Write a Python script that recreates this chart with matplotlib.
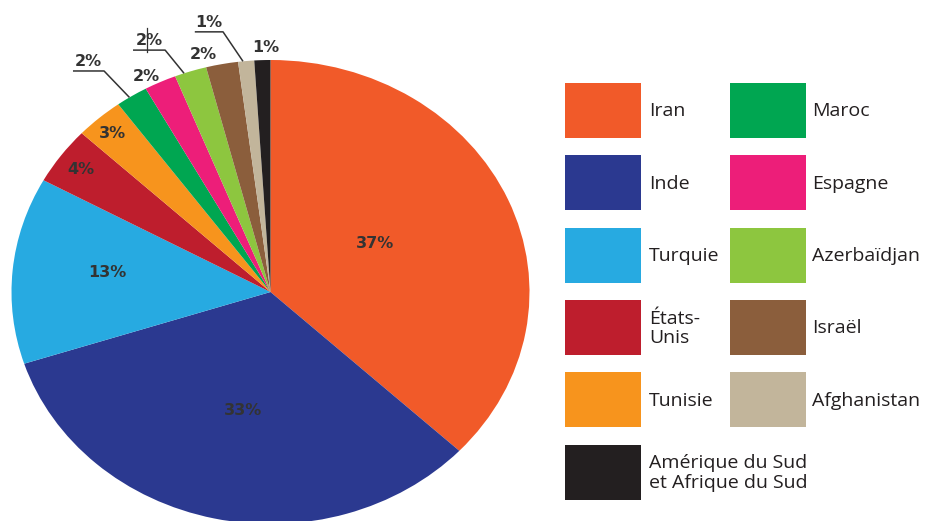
import numpy as np
import matplotlib.pyplot as plt
from matplotlib.patches import Rectangle

# données
pays = ['Iran', 'Inde', 'Turquie', 'États-\nUnis', 'Tunisie', 'Maroc', 'Espagne',
        'Azerbaïdjan', 'Israël', 'Afghanistan', 'Amérique du Sud\net Afrique du Sud']
parts = [37, 33, 13, 4, 3, 2, 2, 2, 2, 1, 1]
couleurs = ['#F15A29', '#2B3990', '#27AAE1', '#BE1E2D', '#F7941D', '#00A651',
            '#ED1E79', '#8DC63F', '#8B5E3C', '#C2B59B', '#231F20']
etiquettes = [f'{p}%' for p in parts]

# ordre de la légende (deux colonnes)
col1 = [0, 1, 2, 3, 4, 10]
col2 = [5, 6, 7, 8, 9]

# placement des étiquettes : (rayon, décalage d'angle en degrés)
place = {0: (0.455, 3.7), 1: (0.524, 0.7), 2: (0.635, -2.4), 3: (0.902, 0.3),
         4: (0.917, 0.3), 6: (1.044, 2.2), 8: (1.055, 3.5), 10: (1.052, -0.7)}
# étiquettes avec trait : (angle sur le bord, dx, dy, longueur du soulignement)
traits = {5: (123.0, -0.098, 0.114, 0.12),
          7: (109.5, -0.073, 0.100, 0.124),
          9: (96.1, -0.077, 0.127, 0.109)}

fig = plt.figure(figsize=(9.27, 5.21), dpi=100)
fig.patch.set_facecolor('white')

# camembert (légèrement aplati, comme l'original)
ax = fig.add_axes([11.5 / 927, -3 / 521, 518 / 927, 464 / 521])
wedges, _ = ax.pie(parts, colors=couleurs, startangle=90, counterclock=False,
                   radius=1.0, wedgeprops=dict(linewidth=0))
ax.set_aspect('auto')
ax.set_xlim(-1, 1)
ax.set_ylim(-1, 1)
ax.axis('off')

police_pct = dict(fontsize=11.5, fontweight='bold', color='#333333',
                  family='DejaVu Sans')
for i, w in enumerate(wedges):
    mid = (w.theta1 + w.theta2) / 2
    if i in place:
        r, da = place[i]
        a = np.radians(mid + da)
        ax.text(r * np.cos(a), r * np.sin(a), etiquettes[i],
                ha='center', va='center', **police_pct)
    elif i in traits:
        ab, dx, dy, L = traits[i]
        a = np.radians(ab)
        x0, y0 = np.cos(a), np.sin(a)
        xe, ye = x0 + dx, y0 + dy
        ax.plot([x0, xe, xe - L], [y0, ye, ye], color='#333333', lw=1.1,
                clip_on=False, solid_capstyle='butt')
        ax.text(xe - L / 2, ye + 0.042, etiquettes[i], ha='center',
                va='center', **police_pct)
        if i == 7:
            # petit trait vertical parasite de l'original
            ax.plot([xe - 0.07, xe - 0.07], [ye - 0.01, ye + 0.095],
                    color='#333333', lw=0.9, clip_on=False)

# légende dessinée à la main
lax = fig.add_axes([0, 0, 1, 1])
lax.set_xlim(0, 927)
lax.set_ylim(521, 0)
lax.axis('off')

police_leg = dict(fontsize=14, color='#231F20', family='Open Sans',
                  linespacing=1.1)
for col, xb, xt in [(col1, 565, 649), (col2, 730, 812)]:
    for k, i in enumerate(col):
        yb = 83 + k * 72.3
        lax.add_patch(Rectangle((xb, yb), 76, 55, facecolor=couleurs[i],
                                edgecolor='none'))
        lax.text(xt, yb + 28.5, pays[i], ha='left', va='center', **police_leg)

fig.savefig('out.png', dpi=100)
